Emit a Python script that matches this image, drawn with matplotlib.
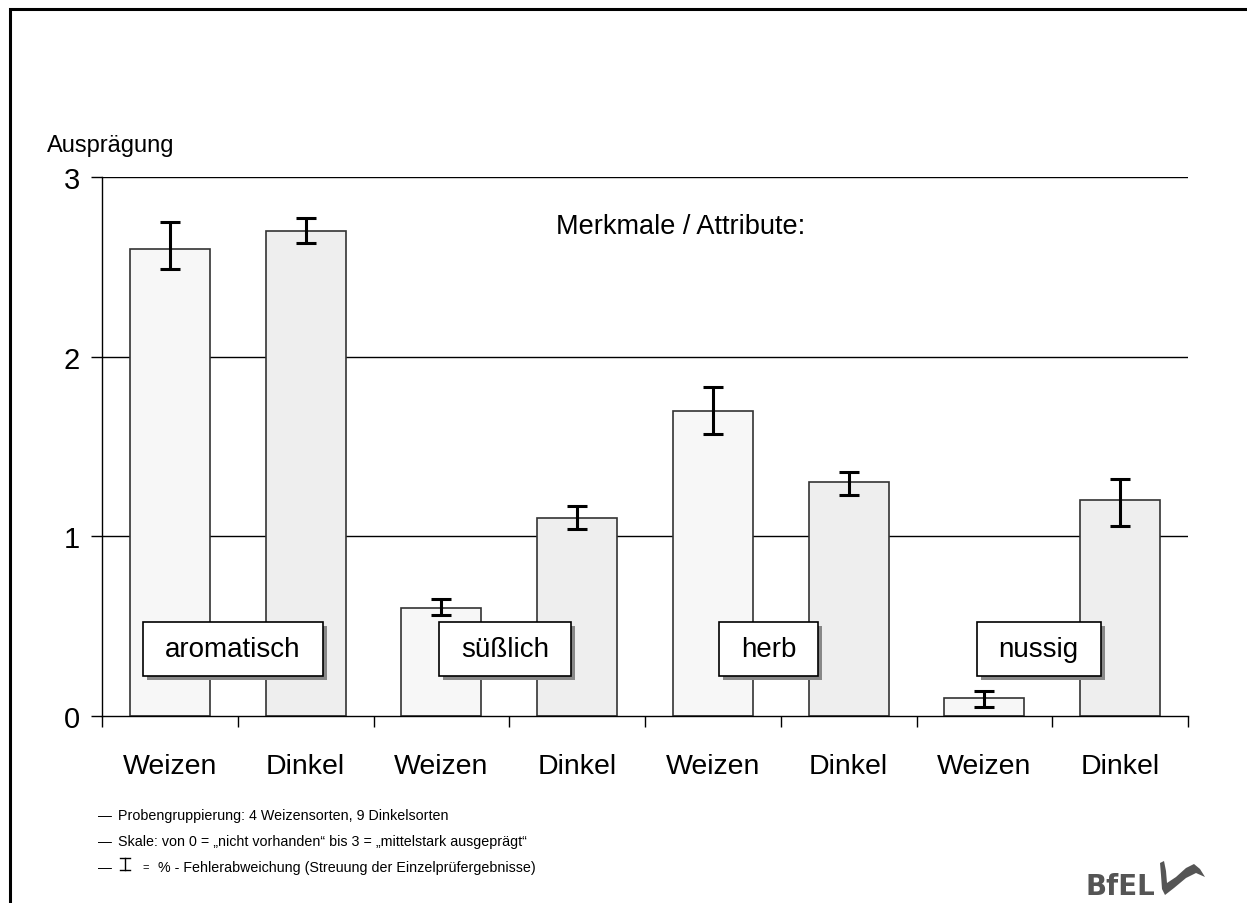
import matplotlib
matplotlib.use("Agg")
import matplotlib.pyplot as plt
from matplotlib.patches import Rectangle, Polygon
from matplotlib.lines import Line2D

plt.rcParams['font.family'] = ['Liberation Sans Narrow', 'Liberation Sans', 'DejaVu Sans']

# data
attributes = ["aromatisch", "süßlich", "herb", "nussig"]
groups = ["Weizen", "Dinkel"]
weizen = [2.6, 0.6, 1.7, 0.1]
dinkel = [2.7, 1.1, 1.3, 1.2]
weizen_lo = [2.49, 0.56, 1.57, 0.05]
weizen_hi = [2.75, 0.65, 1.83, 0.14]
dinkel_lo = [2.63, 1.04, 1.23, 1.06]
dinkel_hi = [2.77, 1.17, 1.36, 1.32]
notes = [
    "Probengruppierung: 4 Weizensorten, 9 Dinkelsorten",
    "Skale: von 0 = \u201enicht vorhanden\u201c bis 3 = \u201emittelstark ausgeprägt\u201c",
    "% - Fehlerabweichung (Streuung der Einzelprüfergebnisse)",
]

W, H = 1247, 904
fig = plt.figure(figsize=(W / 100, H / 100), dpi=100)
ax = fig.add_axes([102 / W, 1 - 717 / H, (1188 - 102) / W, (717 - 178) / H])

xs, vals, lo, hi, cols = [], [], [], [], []
for i in range(len(attributes)):
    xs += [2 * i + 0.5, 2 * i + 1.5]
    vals += [weizen[i], dinkel[i]]
    lo += [weizen_lo[i], dinkel_lo[i]]
    hi += [weizen_hi[i], dinkel_hi[i]]
    cols += ["#f7f7f7", "#eeeeee"]

for y in [1, 2, 3]:
    ax.axhline(y, color="black", lw=1, zorder=1)

ax.bar(xs, vals, width=0.59, color=cols, edgecolor="#333333", lw=1.2, zorder=2)
err = [[v - l for v, l in zip(vals, lo)], [h - v for v, h in zip(vals, hi)]]
ax.errorbar(xs, vals, yerr=err, fmt="none", ecolor="black", elinewidth=2.2,
            capsize=7, capthick=2.2, zorder=3)

ax.set_xlim(0, 8)
ax.set_ylim(0, 3)

# attribute label boxes (box sized from the text extent)
box_x = [0.965, 2.97, 4.91, 6.9]
fig.canvas.draw()
r = fig.canvas.get_renderer()
inv = ax.transData.inverted()
for bx, name in zip(box_x, attributes):
    t = ax.text(bx, 0.373, name, ha="center", va="center", fontsize=20, zorder=6)
    bb = t.get_window_extent(r)
    pw, ph = bb.width + 44, 54
    cx, cy = (bb.x0 + bb.x1) / 2, (bb.y0 + bb.y1) / 2
    for off, fc, ec, z in [((4, -4), "#888888", "none", 4), ((0, 0), "white", "black", 5)]:
        (dx0, dy0), (dx1, dy1) = inv.transform([(cx - pw / 2 + off[0], cy - ph / 2 + off[1]),
                                                (cx + pw / 2 + off[0], cy + ph / 2 + off[1])])
        ax.add_patch(Rectangle((dx0, dy0), dx1 - dx0, dy1 - dy0, fc=fc, ec=ec, lw=1.2,
                               zorder=z, clip_on=False))

ax.text(4.26, 2.73, "Merkmale / Attribute:", ha="center", va="center", fontsize=19.5)

ax.set_yticks([0, 1, 2, 3])
ax.set_yticklabels(["0", "1", "2", "3"], fontsize=21)
ax.set_xticks(range(9))
ax.set_xticklabels([])
ax.set_xticks(xs, minor=True)
ax.set_xticklabels(groups * 4, minor=True, fontsize=20.5)
ax.tick_params(axis="x", which="major", direction="out", length=8, width=1)
ax.tick_params(axis="x", which="minor", length=0, pad=27)
ax.tick_params(axis="y", direction="out", length=8, width=1, pad=8)
for s in ["top", "right"]:
    ax.spines[s].set_visible(False)
ax.spines["left"].set_linewidth(1)
ax.spines["bottom"].set_linewidth(1)

fig.text(47 / W, 1 - 152 / H, "Ausprägung", fontsize=17, va="baseline", ha="left")

# footnotes
for k, t in enumerate(notes):
    y = 1 - (816 + 26 * k) / H
    fig.text(98 / W, y, "\u2014", fontsize=10, va="center")
    if k < 2:
        fig.text(118 / W, y, t, fontsize=10.3, va="center")
    else:
        yc = 865
        for seg in [((125, 125), (yc - 6, yc + 6)), ((120, 130), (yc - 6, yc - 6)), ((120, 130), (yc + 6, yc + 6))]:
            fig.lines.append(Line2D([v / W for v in seg[0]], [1 - v / H for v in seg[1]],
                                    transform=fig.transFigure, color="black", lw=1))
        fig.text(142 / W, y, "=", fontsize=8, va="center")
        fig.text(158 / W, y, t, fontsize=10.3, va="center")

# frame
fig.patches.append(Rectangle((10 / W, -0.05), 1.1, 1 - 10 / H + 0.05, transform=fig.transFigure,
                             fill=False, ec="black", lw=2.2))

# logo
fig.text(1085 / W, 1 - 895 / H, "BfEL", fontsize=20, fontweight="bold", color="#555555",
         va="baseline", family="DejaVu Sans")
swoosh = [(1160, 864), (1164, 862), (1166, 872), (1167, 884), (1176, 878), (1186, 869),
          (1194, 865), (1200, 870), (1205, 878), (1196, 874), (1186, 879), (1174, 889),
          (1165, 896), (1162, 890), (1161, 876)]
fig.patches.append(Polygon([(x / W, 1 - y / H) for x, y in swoosh], closed=True,
                           transform=fig.transFigure, fc="#555555", ec="none"))

fig.savefig("out.png", dpi=100)
